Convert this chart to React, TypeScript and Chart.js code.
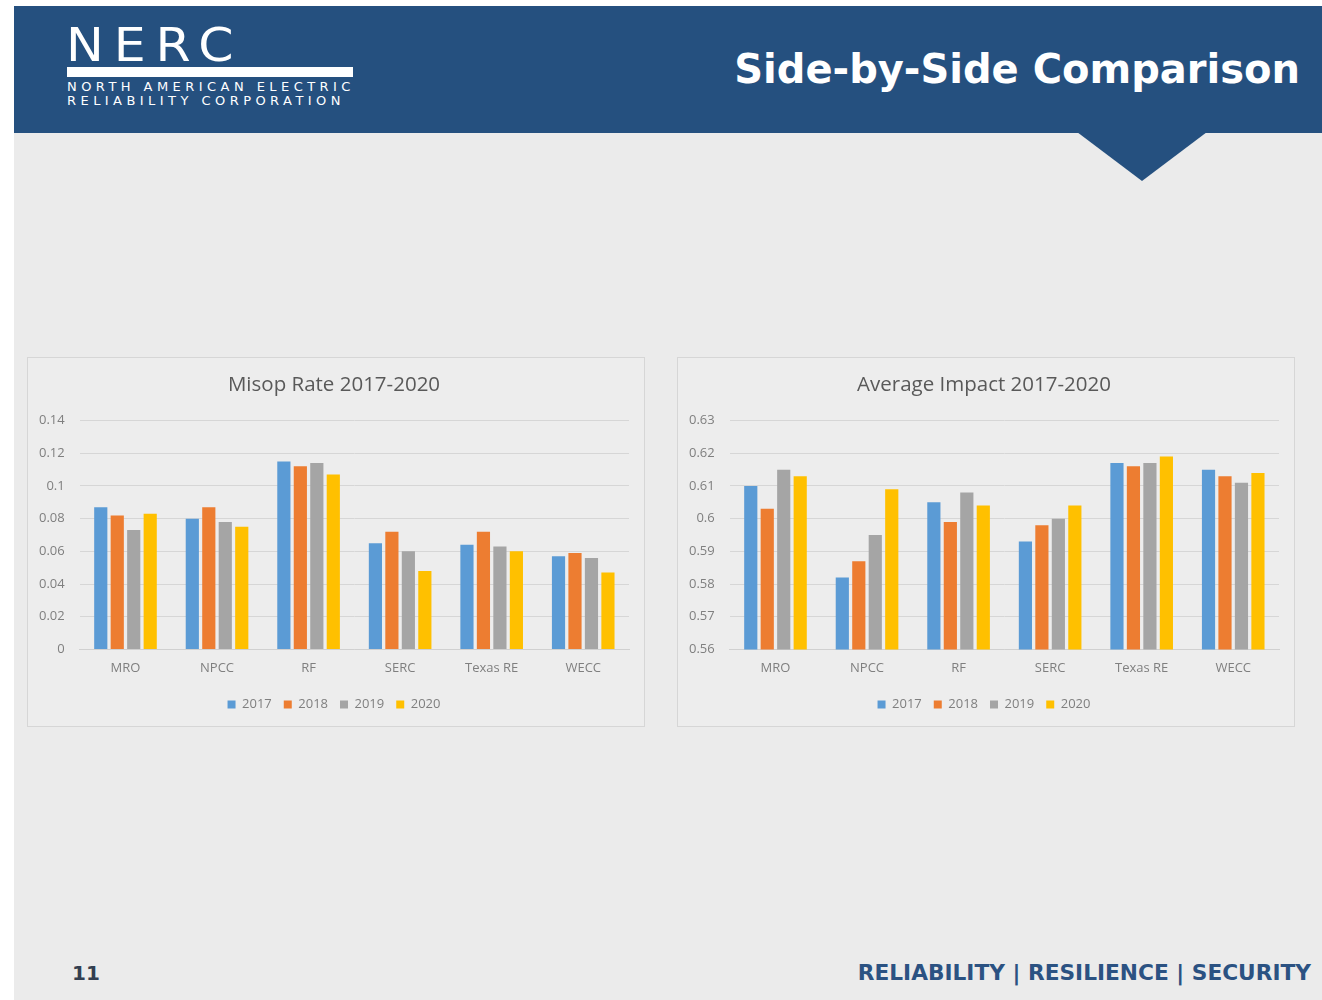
import React, { useEffect, useRef } from "react";
import { Chart, registerables } from "chart.js";

Chart.register(...registerables);

const categories = ["MRO", "NPCC", "RF", "SERC", "Texas RE", "WECC"];
const years = ["2017", "2018", "2019", "2020"];
const colors = ["#5B9BD5", "#ED7D31", "#A5A5A5", "#FFC000"];

const misop2017 = [0.087, 0.080, 0.115, 0.065, 0.064, 0.057];
const misop2018 = [0.082, 0.087, 0.112, 0.072, 0.072, 0.059];
const misop2019 = [0.073, 0.078, 0.114, 0.060, 0.063, 0.056];
const misop2020 = [0.083, 0.075, 0.107, 0.048, 0.060, 0.047];
const misopTickValues = [0, 0.02, 0.04, 0.06, 0.08, 0.1, 0.12, 0.14];
const misopTickLabels = ["0", "0.02", "0.04", "0.06", "0.08", "0.1", "0.12", "0.14"];

const impact2017 = [0.610, 0.582, 0.605, 0.593, 0.617, 0.615];
const impact2018 = [0.603, 0.587, 0.599, 0.598, 0.616, 0.613];
const impact2019 = [0.615, 0.595, 0.608, 0.600, 0.617, 0.611];
const impact2020 = [0.613, 0.609, 0.604, 0.604, 0.619, 0.614];
const impactTickValues = [0.56, 0.57, 0.58, 0.59, 0.6, 0.61, 0.62, 0.63];
const impactTickLabels = ["0.56", "0.57", "0.58", "0.59", "0.6", "0.61", "0.62", "0.63"];

const FONT = "'Open Sans', 'Liberation Sans', sans-serif";

type BarProps = {
  title: string;
  series: number[][];
  tickValues: number[];
  tickLabels: string[];
  left: number;
};

function BarBox({ title, series, tickValues, tickLabels, left }: BarProps) {
  const ref = useRef<HTMLCanvasElement | null>(null);
  useEffect(() => {
    if (!ref.current) return;
    const chart = new Chart(ref.current, {
      type: "bar",
      data: {
        labels: categories,
        datasets: series.map((d, i) => ({
          label: years[i],
          data: d,
          backgroundColor: colors[i],
          borderWidth: 0,
          categoryPercentage: 0.72,
          barPercentage: 0.8,
        })),
      },
      options: {
        responsive: false,
        animation: false,
        layout: { padding: { left: 11, right: 15, top: 0, bottom: 5 } },
        plugins: {
          tooltip: { enabled: false },
          title: {
            display: true,
            text: title,
            color: "#595959",
            font: { family: FONT, size: 20.5, weight: "normal" },
            padding: { top: 15, bottom: 23 },
          },
          legend: {
            position: "bottom",
            labels: {
              boxWidth: 8,
              boxHeight: 8,
              padding: 12,
              color: "#7f7f7f",
              font: { family: FONT, size: 13 },
            },
          },
        },
        scales: {
          x: {
            grid: { display: false, drawTicks: false },
            border: { display: true, color: "#d0d0d0" },
            ticks: {
              color: "#7f7f7f",
              font: { family: FONT, size: 13 },
              padding: 11,
            },
            afterFit: (scale: any) => {
              scale.height -= 1;
            },
          },
          y: {
            min: tickValues[0],
            max: tickValues[tickValues.length - 1],
            grid: { color: "#d6d6d6", drawTicks: false },
            border: { display: false },
            afterBuildTicks: (scale: any) => {
              scale.ticks = tickValues.map((v) => ({ value: v }));
            },
            afterFit: (scale: any) => {
              scale.width -= 15;
            },
            ticks: {
              color: "#7f7f7f",
              font: { family: FONT, size: 13 },
              padding: 15,
              callback: (_v: any, i: number) => tickLabels[i],
            },
          },
        },
      },
    });
    return () => chart.destroy();
  }, []);
  return (
    <div
      style={{
        position: "absolute",
        left,
        top: 357,
        width: 618,
        height: 370,
        border: "1px solid #d6d6d6",
        boxSizing: "border-box",
        background: "#ededed",
      }}
    >
      <canvas ref={ref} width={616} height={368} style={{ display: "block" }} />
    </div>
  );
}

export default function App() {
  return (
    <div
      style={{
        position: "absolute",
        left: 0,
        top: 0,
        width: 1322,
        height: 1000,
        background: "#ffffff",
        overflow: "hidden",
      }}
    >
      <div
        style={{
          position: "absolute",
          left: 14,
          top: 6,
          width: 1308,
          height: 994,
          background: "#ebebeb",
        }}
      />
      {/* header band */}
      <div
        style={{
          position: "absolute",
          left: 14,
          top: 6,
          width: 1308,
          height: 127,
          background: "#25507f",
        }}
      />
      <div
        style={{
          position: "absolute",
          left: 1077,
          top: 132,
          width: 130,
          height: 49,
          background: "#25507f",
          clipPath: "polygon(0 0, 100% 0, 50% 100%)",
        }}
      />
      {/* logo */}
      <div
        style={{
          position: "absolute",
          left: 66,
          top: 21,
          color: "#ffffff",
          fontFamily: "'DejaVu Sans', sans-serif",
          fontSize: 46,
          fontWeight: 400,
          letterSpacing: 9,
          lineHeight: "48px",
          whiteSpace: "nowrap",
          transform: "scaleX(1.1)",
          transformOrigin: "left top",
        }}
      >
        NERC
      </div>
      <div
        style={{
          position: "absolute",
          left: 67,
          top: 67,
          width: 286,
          height: 10,
          background: "#ffffff",
        }}
      />
      <div
        style={{
          position: "absolute",
          left: 67,
          top: 80,
          width: 300,
          color: "#ffffff",
          fontFamily: "'DejaVu Sans', sans-serif",
          fontSize: 13,
          letterSpacing: 4.45,
          lineHeight: "14px",
          whiteSpace: "nowrap",
        }}
      >
        NORTH AMERICAN ELECTRIC
        <br />
        RELIABILITY CORPORATION
      </div>
      <div
        style={{
          position: "absolute",
          right: 22,
          top: 44,
          color: "#ffffff",
          fontFamily: "'DejaVu Sans', sans-serif",
          fontWeight: "bold",
          fontSize: 40,
          lineHeight: "50px",
          whiteSpace: "nowrap",
        }}
      >
        Side-by-Side Comparison
      </div>

      <BarBox
        title="Misop Rate 2017-2020"
        series={[misop2017, misop2018, misop2019, misop2020]}
        tickValues={misopTickValues}
        tickLabels={misopTickLabels}
        left={27}
      />
      <BarBox
        title="Average Impact 2017-2020"
        series={[impact2017, impact2018, impact2019, impact2020]}
        tickValues={impactTickValues}
        tickLabels={impactTickLabels}
        left={677}
      />

      {/* footer */}
      <div
        style={{
          position: "absolute",
          left: 72,
          top: 960,
          color: "#333f50",
          fontFamily: "'DejaVu Sans', sans-serif",
          fontWeight: "bold",
          fontSize: 20,
          lineHeight: "26px",
        }}
      >
        11
      </div>
      <div
        style={{
          position: "absolute",
          right: 11,
          top: 959,
          color: "#2b5282",
          fontFamily: "'DejaVu Sans', sans-serif",
          fontWeight: "bold",
          fontSize: 21.7,
          lineHeight: "28px",
          whiteSpace: "nowrap",
        }}
      >
        RELIABILITY | RESILIENCE | SECURITY
      </div>
    </div>
  );
}
